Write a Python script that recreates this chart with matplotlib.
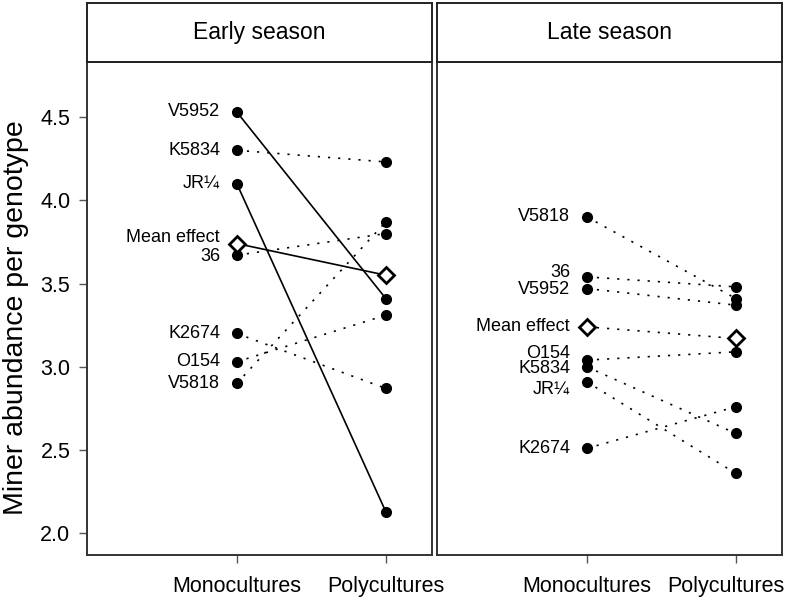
import matplotlib
matplotlib.use("Agg")
import matplotlib.pyplot as plt
import matplotlib.transforms as mtransforms

plt.rcParams['font.family'] = ['Liberation Sans', 'DejaVu Sans']

# data
treatments = ["Monocultures", "Polycultures"]

early_genotypes = ["V5952", "K5834", "JR¼", "36", "K2674", "O154", "V5818"]
early_mono = [4.53, 4.30, 4.10, 3.67, 3.20, 3.03, 2.90]
early_poly = [3.41, 4.23, 2.13, 3.80, 2.87, 3.31, 3.87]
early_signif = [True, False, True, False, False, False, False]
early_mean = [3.74, 3.55]
early_mean_signif = True

late_genotypes = ["V5818", "36", "V5952", "O154", "K5834", "JR¼", "K2674"]
late_mono = [3.90, 3.54, 3.47, 3.04, 3.00, 2.91, 2.51]
late_poly = [3.41, 3.48, 3.37, 3.09, 2.60, 2.36, 2.76]
late_signif = [False] * 7
late_mean = [3.24, 3.17]
late_mean_signif = False

panel_titles = ["Early season", "Late season"]
y_ticks = [2.0, 2.5, 3.0, 3.5, 4.0, 4.5]

# small vertical nudges (points) so labels do not collide
early_nudge = {"Mean effect": 4, "36": -1}
late_nudge = {"36": 3, "V5952": -1, "O154": 5, "K5834": -1.5, "JR¼": -5}

dotted = (0, (1.3, 4.8))

fig = plt.figure(figsize=(7.86, 5.97), dpi=100)
W, H = 786, 597


def box(l, t, r, b):
    return [l / W, 1 - b / H, (r - l) / W, (b - t) / H]


panels = [
    (early_genotypes, early_mono, early_poly, early_signif, early_mean,
     early_mean_signif, early_nudge),
    (late_genotypes, late_mono, late_poly, late_signif, late_mean,
     late_mean_signif, late_nudge),
]
lefts = [(87, 432), (437, 782)]

for i, (genos, mono, poly, sig, mean, msig, nudge) in enumerate(panels):
    l, r = lefts[i]
    ax = fig.add_axes(box(l, 62, r, 555))
    strip = fig.add_axes(box(l, 3, r, 62))
    strip.set_xticks([])
    strip.set_yticks([])
    for s in strip.spines.values():
        s.set_linewidth(1.4)
        s.set_color("#222222")
    strip.text(0.5, 0.5, panel_titles[i], ha="center", va="center",
               fontsize=16.5, transform=strip.transAxes)

    for g, m, p, s in zip(genos, mono, poly, sig):
        ax.plot([1, 2], [m, p], color="black", lw=1.2,
                ls="-" if s else dotted, zorder=2)
        ax.plot([1, 2], [m, p], "o", color="black", ms=7, zorder=3)
        ax.annotate(g, (1, m), xytext=(-12, nudge.get(g, 0)),
                    textcoords="offset points", ha="right", va="center",
                    fontsize=13)
    ax.plot([1, 2], mean, color="black", lw=1.2,
            ls="-" if msig else dotted, zorder=2)
    ax.plot([1, 2], mean, "D", mfc="white", mec="black", mew=2, ms=8,
            zorder=4)
    ax.annotate("Mean effect", (1, mean[0]),
                xytext=(-12, nudge.get("Mean effect", 0)),
                textcoords="offset points", ha="right", va="center",
                fontsize=13)

    ax.set_xlim(-0.005, 2.31)
    ax.set_ylim(1.87, 4.83)
    ax.set_xticks([1, 2])
    ax.set_xticklabels(treatments, fontsize=15.5)
    ax.tick_params(axis="x", length=6, width=1, color="#555555", pad=9)
    if i == 0:
        ax.set_yticks(y_ticks)
        ax.set_yticklabels([f"{v:.1f}" for v in y_ticks], fontsize=15.5)
        ax.tick_params(axis="y", length=6, width=1, color="#555555", pad=6)
    else:
        ax.set_yticks([])
        # keep the last tick label inside the figure
        lab = ax.get_xticklabels()[-1]
        lab.set_transform(lab.get_transform() +
                          mtransforms.ScaledTranslation(-0.1, 0,
                                                        fig.dpi_scale_trans))
    for s in ax.spines.values():
        s.set_linewidth(1.4)
        s.set_color("#333333")

fig.text(16 / W, 1 - 318 / H, "Miner abundance per genotype", rotation=90,
         ha="center", va="center", fontsize=20.5)

fig.savefig("out.png", dpi=100)
